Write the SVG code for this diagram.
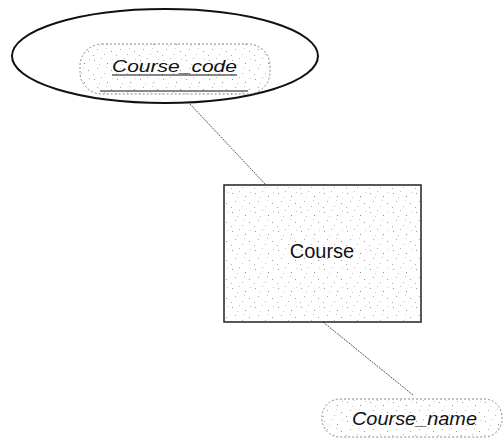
<svg xmlns="http://www.w3.org/2000/svg" width="503" height="441" viewBox="0 0 503 441">
  <defs>
    <!-- sparse grey speckle used as a light textured fill -->
    <pattern id="speckle" width="23" height="19" patternUnits="userSpaceOnUse">
      <rect width="23" height="19" fill="#ffffff"/>
      <rect x="2" y="3" width="1" height="1" fill="#999"/>
      <rect x="9" y="1" width="1" height="1" fill="#bbb"/>
      <rect x="15" y="6" width="1" height="1" fill="#888"/>
      <rect x="5" y="11" width="1" height="1" fill="#aaa"/>
      <rect x="19" y="13" width="1" height="1" fill="#999"/>
      <rect x="12" y="16" width="1" height="1" fill="#bbb"/>
      <rect x="7" y="7" width="1" height="1" fill="#ccc"/>
      <rect x="20" y="2" width="1" height="1" fill="#ccc"/>
      <rect x="1" y="17" width="1" height="1" fill="#aaa"/>
      <rect x="14" y="10" width="1" height="1" fill="#ccc"/>
    </pattern>
  </defs>
  <style>
    .conn { stroke: #555; stroke-width: 1; stroke-dasharray: 2 1; fill: none; }
    .attr { fill: url(#speckle); stroke: #888; stroke-width: 1; stroke-dasharray: 2 2; }
    .entity { fill: url(#speckle); stroke: #222; stroke-width: 1.5; }
    .label { font-family: "Liberation Sans", Arial, sans-serif; fill: #111; }
    .key { stroke: #111; stroke-width: 1.2; }
  </style>

  <rect width="503" height="441" fill="#ffffff"/>

  <!-- connectors -->
  <g id="connectors">
    <line class="conn" x1="190" y1="104" x2="266" y2="185"/>
    <line class="conn" x1="323" y1="322" x2="413" y2="395"/>
  </g>

  <!-- key attribute, highlighted by the surrounding ellipse -->
  <g id="course-code">
    <ellipse cx="165" cy="56" rx="153" ry="47" fill="none" stroke="#111" stroke-width="2"/>
    <rect class="attr" x="80" y="44" width="190" height="50" rx="22" ry="22"/>
    <line class="key" x1="100" y1="91" x2="248" y2="91" stroke="#333"/>
    <text class="label" x="112" y="72" font-size="17" font-style="italic" textLength="125" lengthAdjust="spacingAndGlyphs">Course_code</text>
    <line class="key" x1="112" y1="75" x2="237" y2="75"/>
  </g>

  <!-- entity -->
  <g id="course">
    <rect class="entity" x="224" y="185" width="197" height="137"/>
    <text class="label" x="322" y="258" font-size="20" text-anchor="middle">Course</text>
  </g>

  <!-- attribute -->
  <g id="course-name">
    <rect class="attr" x="322" y="399" width="180" height="38" rx="18" ry="18"/>
    <text class="label" x="352" y="425" font-size="18" font-style="italic" textLength="125" lengthAdjust="spacingAndGlyphs">Course_name</text>
  </g>
</svg>
